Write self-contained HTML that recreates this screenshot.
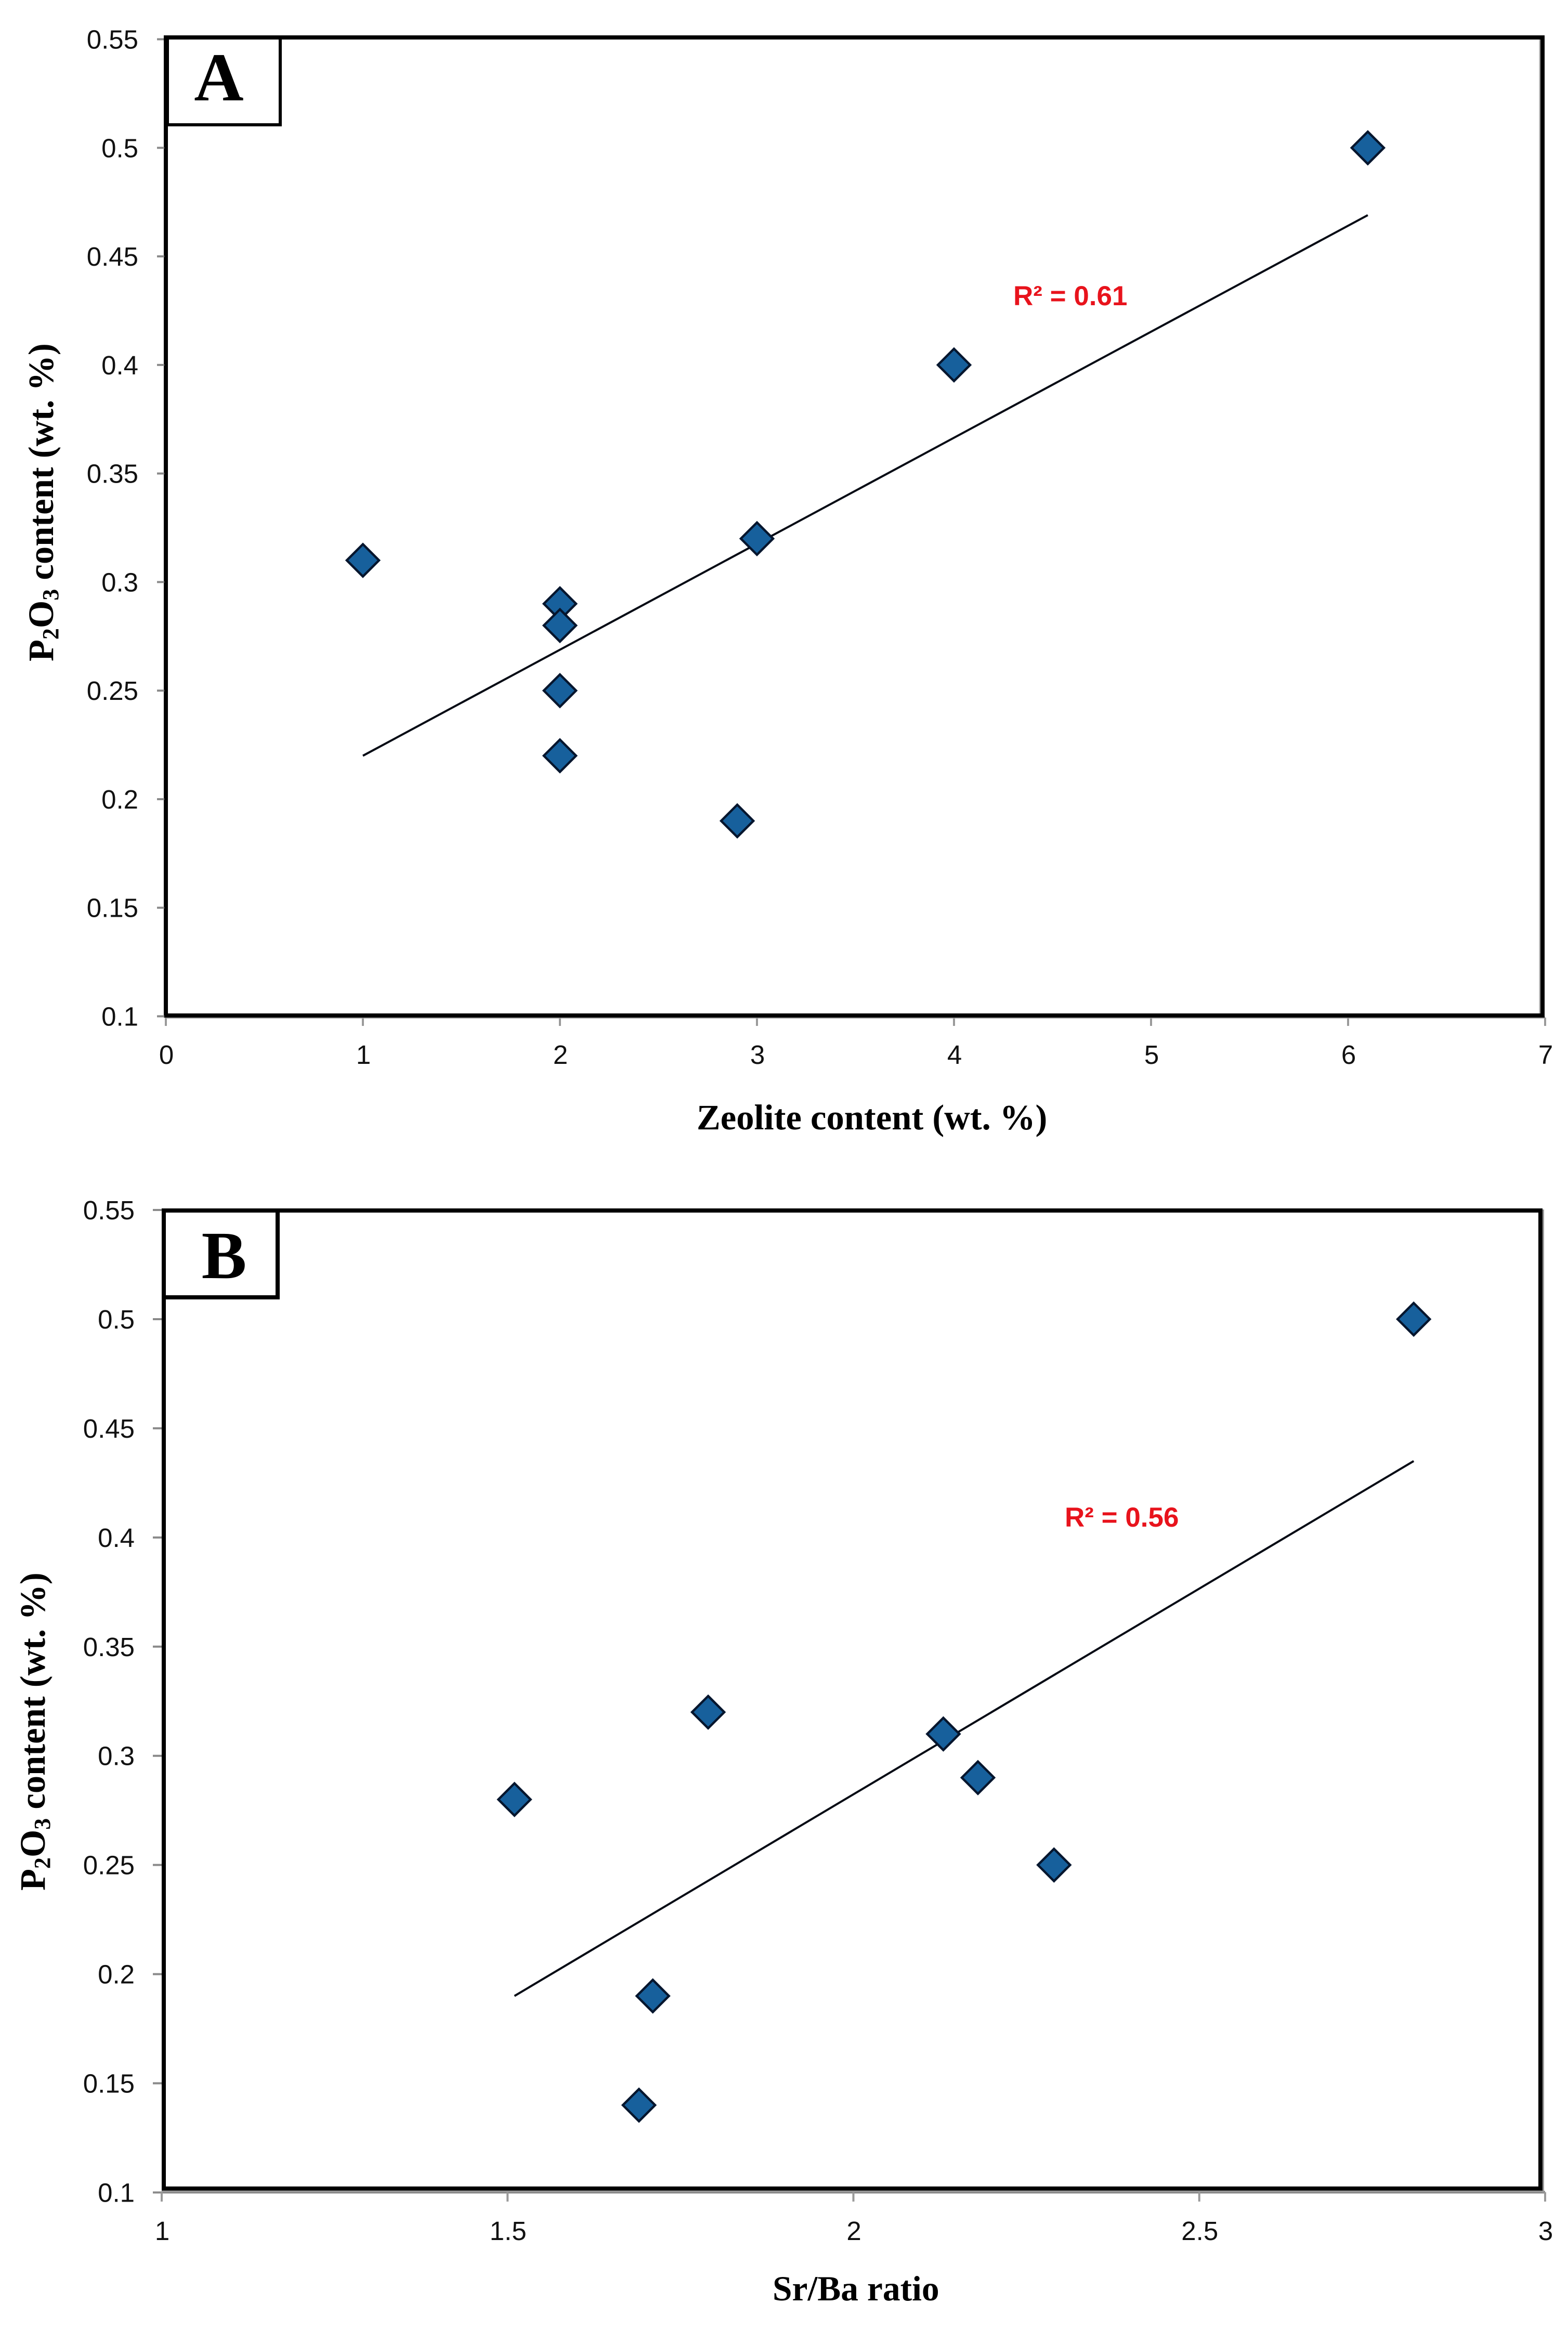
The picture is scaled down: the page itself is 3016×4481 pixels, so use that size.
<!DOCTYPE html>
<html lang="en">
<head>
<meta charset="utf-8">
<title>P2O3 content scatter plots</title>
<style>
html,body{margin:0;padding:0;background:#fff;width:3016px;height:4481px;overflow:hidden}
svg{display:block}
.tick-label{font-family:"Liberation Sans",sans-serif;font-size:51px;fill:#111}
.axis-title{font-family:"Liberation Serif",serif;font-weight:bold;font-size:68.6px;fill:#000}
.panel-letter{font-family:"Liberation Serif",serif;font-weight:bold;fill:#000}
.r2{font-family:"Liberation Sans",sans-serif;font-weight:bold;font-size:53px;fill:#e8131c}
</style>
</head>
<body>
<svg id="figure" xmlns="http://www.w3.org/2000/svg" width="3016" height="4481" viewBox="0 0 3016 4481">
  <rect x="0" y="0" width="3016" height="4481" fill="#fff"/>

  <g id="chart-a">
    <line x1="319" y1="1957" x2="2972" y2="1957" stroke="#aaa" stroke-width="4"/>
    <line x1="2962" y1="72" x2="2962" y2="1953" stroke="#aaa" stroke-width="3"/>
    <rect x="319" y="72" width="2648" height="1881" fill="none" stroke="#000" stroke-width="8"/>
    <g id="chart-a-ticks"></g>
    <g id="chart-a-marks"></g>
    <rect x="319" y="72" width="220" height="168" fill="#fff" stroke="#000" stroke-width="6"/>
    <line x1="320" y1="68" x2="320" y2="243" stroke="#000" stroke-width="10"/>
    <line x1="316" y1="72" x2="539" y2="72" stroke="#000" stroke-width="8"/>
    <text class="panel-letter" x="421" y="193" font-size="132" text-anchor="middle">A</text>
    <text class="axis-title" x="1340" y="2172">Zeolite content (wt. %)</text>
    <text class="axis-title" transform="translate(102 1272) rotate(-90)">P<tspan font-size="44" dy="10">2</tspan><tspan dy="-10">O</tspan><tspan font-size="44" dy="10">3</tspan><tspan dy="-10"> content (wt. %)</tspan></text>
    <text class="r2" x="1949" y="587">R² = 0.61</text>
  </g>

  <g id="chart-b">
    <line x1="311" y1="4216" x2="2972" y2="4216" stroke="#8a8a8a" stroke-width="5"/>
    <line x1="2968" y1="2326" x2="2968" y2="4216" stroke="#999" stroke-width="4"/>
    <rect x="315" y="2328" width="2648" height="1881" fill="none" stroke="#000" stroke-width="8"/>
    <g id="chart-b-ticks"></g>
    <g id="chart-b-marks"></g>
    <rect x="315" y="2328" width="219" height="167" fill="#fff" stroke="#000" stroke-width="8"/>
    <text class="panel-letter" x="431" y="2458" font-size="130" text-anchor="middle">B</text>
    <text class="axis-title" x="1486" y="4424" style="font-size:67.5px">Sr/Ba ratio</text>
    <text class="axis-title" transform="translate(86 3636) rotate(-90)">P<tspan font-size="44" dy="10">2</tspan><tspan dy="-10">O</tspan><tspan font-size="44" dy="10">3</tspan><tspan dy="-10"> content (wt. %)</tspan></text>
    <text class="r2" x="2048" y="2936">R² = 0.56</text>
  </g>
</svg>

<script>
// Chart data
var yTickLabels = ['0.1','0.15','0.2','0.25','0.3','0.35','0.4','0.45','0.5','0.55'];

var xTickLabelsA = ['0','1','2','3','4','5','6','7'];
var zeoliteValues = [1, 2, 2, 2, 2, 2.9, 3, 4, 6.1];
var p2o3ValuesA = [0.31, 0.29, 0.28, 0.25, 0.22, 0.19, 0.32, 0.4, 0.5];
var trendXA = [1, 6.1];
var trendYA = [0.22, 0.469];

var xTickLabelsB = ['1','1.5','2','2.5','3'];
var srBaValues = [1.51, 1.69, 1.71, 1.79, 2.13, 2.18, 2.29, 2.81];
var p2o3ValuesB = [0.28, 0.14, 0.19, 0.32, 0.31, 0.29, 0.25, 0.5];
var trendXB = [1.51, 2.81];
var trendYB = [0.19, 0.435];

// Axis functions
function linear(d0, d1, r0, r1) {
  return function (v) { return r0 + (v - d0) / (d1 - d0) * (r1 - r0); };
}
var xA = linear(0, 7, 319, 2972);
var yA = linear(0.1, 0.55, 1954.5, 75.5);
var xB = linear(1, 3, 311, 2972);
var yB = linear(0.1, 0.55, 4216.5, 2327);

var NS = 'http://www.w3.org/2000/svg';

function drawTicks(groupId, prefix, xLabels, yLabels, xFn, yFn, cfg) {
  var g = document.getElementById(groupId);
  yLabels.forEach(function (label) {
    var v = parseFloat(label);
    var t = document.createElementNS(NS, 'line');
    
    
    t.setAttribute('x1', cfg.yTickX1);
    t.setAttribute('x2', cfg.yTickX2);
    t.setAttribute('y1', yFn(v));
    t.setAttribute('y2', yFn(v));
    t.setAttribute('stroke', '#8a8a8a');
    t.setAttribute('stroke-width', '4');
    g.appendChild(t);
    var s = document.createElementNS(NS, 'text');
    
    
    s.setAttribute('class', 'tick-label');
    s.setAttribute('x', cfg.yLabelX);
    s.setAttribute('y', yFn(v) + 18);
    s.setAttribute('text-anchor', 'end');
    s.textContent = label;
    g.appendChild(s);
  });
  xLabels.forEach(function (label) {
    var v = parseFloat(label);
    var t = document.createElementNS(NS, 'line');
    
    
    t.setAttribute('x1', xFn(v));
    t.setAttribute('x2', xFn(v));
    t.setAttribute('y1', cfg.xTickY1);
    t.setAttribute('y2', cfg.xTickY2);
    t.setAttribute('stroke', '#9a9a9a');
    t.setAttribute('stroke-width', '4');
    g.appendChild(t);
    var s = document.createElementNS(NS, 'text');
    
    
    s.setAttribute('class', 'tick-label');
    s.setAttribute('x', xFn(v) + 1);
    s.setAttribute('y', cfg.xLabelY);
    s.setAttribute('text-anchor', 'middle');
    s.textContent = label;
    g.appendChild(s);
  });
}

function drawMarks(groupId, prefix, xs, ys, tx, ty, xFn, yFn) {
  var g = document.getElementById(groupId);
  var line = document.createElementNS(NS, 'line');
  
  
  line.setAttribute('x1', xFn(tx[0]));
  line.setAttribute('y1', yFn(ty[0]));
  line.setAttribute('x2', xFn(tx[1]));
  line.setAttribute('y2', yFn(ty[1]));
  line.setAttribute('stroke', '#050a14');
  line.setAttribute('stroke-width', '4');
  g.appendChild(line);
  var size = 31;
  xs.forEach(function (xv, i) {
    var cx = xFn(xv), cy = yFn(ys[i]);
    var p = document.createElementNS(NS, 'polygon');
    
    
    p.setAttribute('points', [cx, cy - size, cx + size, cy, cx, cy + size, cx - size, cy].join(','));
    p.setAttribute('fill', '#17609c');
    p.setAttribute('stroke', '#06162e');
    p.setAttribute('stroke-width', '4.5');
    g.appendChild(p);
  });
}

drawTicks('chart-a-ticks', 'chart-a', xTickLabelsA, yTickLabels, xA, yA,
  {yTickX1: 302, yTickX2: 316, yLabelX: 266, xTickY1: 1957, xTickY2: 1973, xLabelY: 2046});
drawTicks('chart-b-ticks', 'chart-b', xTickLabelsB, yTickLabels, xB, yB,
  {yTickX1: 294, yTickX2: 311, yLabelX: 259, xTickY1: 4216, xTickY2: 4234, xLabelY: 4308});
drawMarks('chart-a-marks', 'chart-a', zeoliteValues, p2o3ValuesA, trendXA, trendYA, xA, yA);
drawMarks('chart-b-marks', 'chart-b', srBaValues, p2o3ValuesB, trendXB, trendYB, xB, yB);
</script>
</body>
</html>
